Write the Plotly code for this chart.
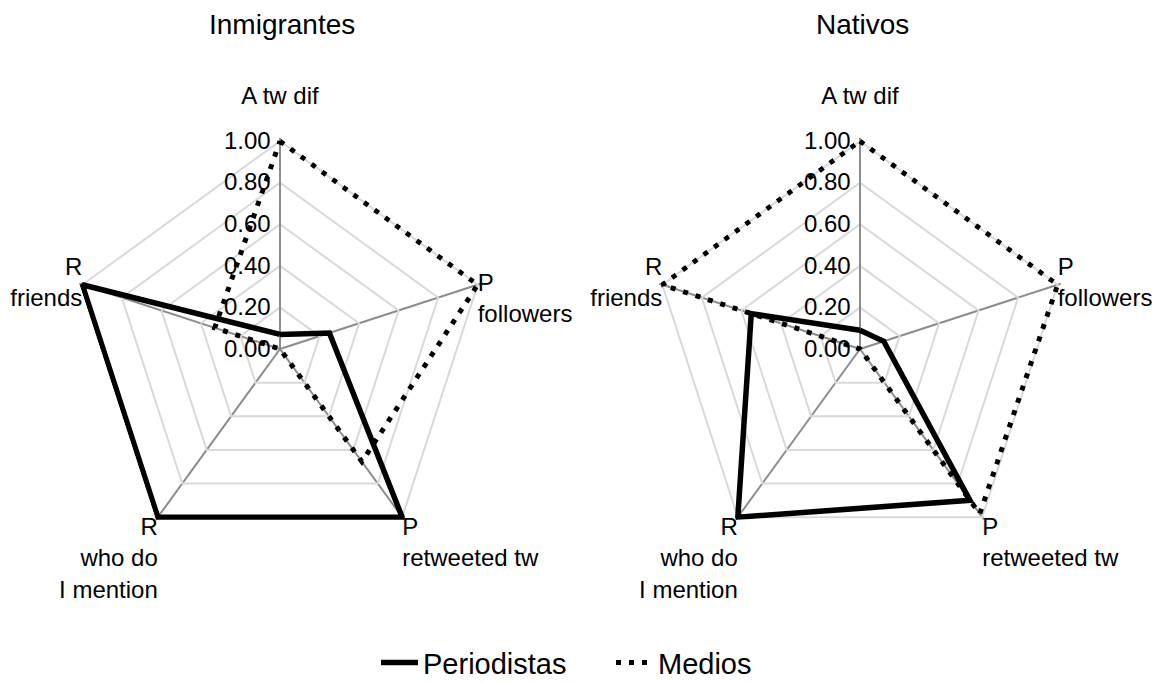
import plotly.graph_objects as go

categories = ["A tw dif", "P followers", "P retweeted tw", "R who do I mention", "R friends"]
category_lines = [["A tw dif"], ["P", "followers"], ["P", "retweeted tw"],
                  ["R", "who do", "I mention"], ["R", "friends"]]
inm_periodistas = [0.07, 0.25, 1.00, 1.00, 1.00]
inm_medios = [1.00, 1.00, 0.67, 0.00, 0.33]
nat_periodistas = [0.09, 0.12, 0.90, 1.00, 0.55]
nat_medios = [1.00, 1.00, 0.98, 0.00, 1.00]
radial_ticks = [0.0, 0.2, 0.4, 0.6, 0.8, 1.0]
titles = ["Inmigrantes", "Nativos"]

# ---- style / layout constants ----
FONT = "Liberation Sans, Arial, Helvetica, sans-serif"
W, H = 1161, 676          # page has an 8px body margin in a 1169x684 window
OFF = 8
R = 211                   # pixel radius of the full radial range
RMAX = 1.015              # a little headroom so lines on the outer ring are not clipped
LABEL_R = 1.0
label_positions = ["top center", "middle right", "bottom right", "bottom left", "middle left"]
# blank lines added above / below each label block (per subplot) to nudge placement
label_top_pad = [[0, 1, 0, 0, 0], [0, 0, 0, 0, 0]]
label_bottom_pad = [1, 0, 0, 0, 0]


def closed(v):
    return list(v) + [v[0]]


def label_text(lines, tpad, bpad):
    out = ["\u00a0"] * tpad + list(lines) + ["\u00a0"] * bpad
    return "<br>".join(out)


fig = go.Figure()
for i, (per, med) in enumerate([(inm_periodistas, inm_medios), (nat_periodistas, nat_medios)]):
    sub = "polar" if i == 0 else "polar2"
    texts = [label_text(l, tp, bp) for l, tp, bp in zip(category_lines, label_top_pad[i], label_bottom_pad)]
    fig.add_trace(go.Scatterpolar(
        r=closed(per), theta=closed(categories), mode="lines", name="Periodistas",
        line=dict(color="black", width=5.5), subplot=sub, showlegend=(i == 0),
        legendgroup="p", hoverinfo="skip"))
    fig.add_trace(go.Scatterpolar(
        r=closed(med), theta=closed(categories), mode="lines", name="Medios",
        line=dict(color="black", width=5, dash="5px,8px"), subplot=sub,
        showlegend=(i == 0), legendgroup="m", hoverinfo="skip"))
    fig.add_trace(go.Scatterpolar(
        r=[LABEL_R] * len(categories), theta=categories, mode="text",
        text=texts, textposition=label_positions,
        textfont=dict(size=24, color="black", family=FONT),
        subplot=sub, showlegend=False, cliponaxis=False, hoverinfo="skip"))

centers = [(280 - OFF, 349 - OFF), (860 - OFF, 349 - OFF)]


def polar_layout(cx, cy):
    return dict(
        domain=dict(x=[(cx - R) / W, (cx + R) / W], y=[(H - cy - R) / H, (H - cy + R) / H]),
        gridshape="linear",
        bgcolor="rgba(0,0,0,0)",
        radialaxis=dict(
            range=[0, RMAX], tickvals=radial_ticks, tickformat=".2f", angle=90,
            side="counterclockwise", showline=True, linecolor="#8c8c8c", linewidth=2,
            gridcolor="#d9d9d9", gridwidth=1.5, ticks="", ticklen=0, tickangle=90,
            tickfont=dict(size=24, color="black", family=FONT), layer="below traces"),
        angularaxis=dict(
            categoryorder="array", categoryarray=categories,
            direction="clockwise", rotation=90, showline=False,
            gridcolor="#8c8c8c", gridwidth=1.5, ticks="", showticklabels=False,
            layer="below traces"),
    )


fig.update_layout(
    width=W, height=H,
    margin=dict(l=0, r=0, t=0, b=0, autoexpand=False),
    paper_bgcolor="white", plot_bgcolor="white",
    font=dict(family=FONT, color="black", size=24),
    polar=polar_layout(*centers[0]),
    polar2=polar_layout(*centers[1]),
    legend=dict(orientation="h", x=(376 - OFF) / W, xanchor="left", y=-0.006, yanchor="bottom",
                font=dict(size=29, family=FONT), entrywidth=183, itemwidth=37),
)
for (cx, cy), t in zip(centers, titles):
    fig.add_annotation(text=t, x=(cx + 2) / W, y=1 - (25 - OFF) / H, xref="paper", yref="paper",
                       showarrow=False, xanchor="center", yanchor="middle",
                       font=dict(size=28, family=FONT, color="black"))

fig.write_html("out.html")
